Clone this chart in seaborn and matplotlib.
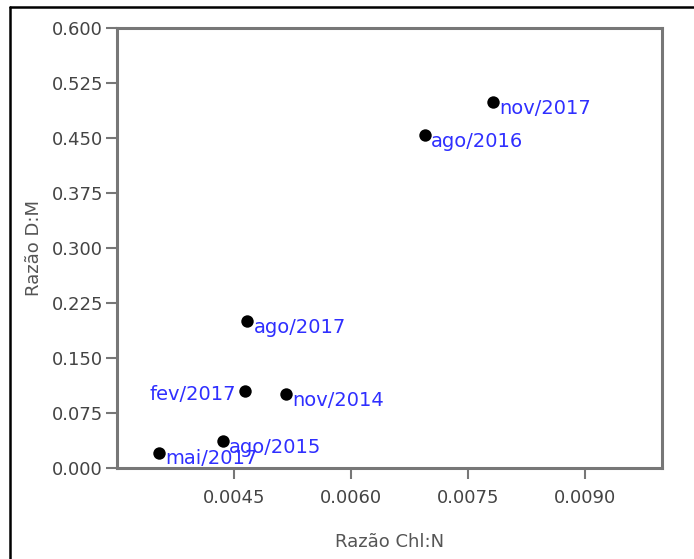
import matplotlib
matplotlib.use("Agg")
import matplotlib.pyplot as plt
from matplotlib.lines import Line2D
import seaborn as sns
import pandas as pd

# Data
labels = ["nov/2017", "ago/2016", "ago/2017", "fev/2017", "nov/2014", "ago/2015", "mai/2017"]
chl_n = [0.00783, 0.00695, 0.00467, 0.00464, 0.00517, 0.00436, 0.00354]
d_m = [0.498, 0.453, 0.2, 0.105, 0.101, 0.037, 0.021]
x_ticks = [0.0045, 0.0060, 0.0075, 0.0090]
y_ticks = [0.000, 0.075, 0.150, 0.225, 0.300, 0.375, 0.450, 0.525, 0.600]

df = pd.DataFrame({"label": labels, "x": chl_n, "y": d_m})

sns.set_theme(style="white")
plt.rcParams['font.family'] = ['DejaVu Sans']

fig = plt.figure(figsize=(6.94, 5.59), dpi=100)
ax = fig.add_axes([0.1686, 0.1628, 0.9546 - 0.1686, 0.9508 - 0.1628])

sns.scatterplot(data=df, x="x", y="y", ax=ax, color="black", s=80,
                edgecolor="black", linewidth=0, zorder=3)

ax.set_xlim(0.0030, 0.0100)
ax.set_ylim(0.0, 0.6)
ax.set_xticks(x_ticks)
ax.set_xticklabels([f"{v:.4f}" for v in x_ticks])
ax.set_yticks(y_ticks)
ax.set_yticklabels([f"{v:.3f}" for v in y_ticks])

frame_col = "#777777"
for sp in ax.spines.values():
    sp.set_color(frame_col)
    sp.set_linewidth(2.2)
    sp.set_visible(True)

ax.tick_params(axis="both", which="major", direction="out", length=8, width=1.5,
               color=frame_col, labelsize=13, labelcolor="#444444")
ax.tick_params(axis="x", pad=7)
ax.tick_params(axis="y", pad=2)
ax.xaxis.set_ticks_position("bottom")
ax.yaxis.set_ticks_position("left")

ax.set_xlabel("Razão Chl:N", fontsize=13, color="#555555")
ax.set_ylabel("Razão D:M", fontsize=13, color="#555555")
ax.xaxis.set_label_coords(0.5, -0.148)
ax.yaxis.set_label_coords(-0.135, 0.5)

label_col = "#2f2fff"
for lab, xv, yv in zip(labels, chl_n, d_m):
    if lab == "fev/2017":
        ax.annotate(lab, (xv, yv), xytext=(-6, -6.5), textcoords="offset points",
                    ha="right", va="baseline", fontsize=14, color=label_col, zorder=4)
    else:
        ax.annotate(lab, (xv, yv), xytext=(4.5, -8.5), textcoords="offset points",
                    ha="left", va="baseline", fontsize=14, color=label_col, zorder=4)

# outer border (top and left edges visible)
fig.add_artist(Line2D([10 / 694, 1.0], [1 - 7 / 559, 1 - 7 / 559], transform=fig.transFigure,
                      color="black", linewidth=1.8))
fig.add_artist(Line2D([10 / 694, 10 / 694], [0.0, 1 - 7 / 559], transform=fig.transFigure,
                      color="black", linewidth=1.8))

fig.savefig("out.png", dpi=100)
